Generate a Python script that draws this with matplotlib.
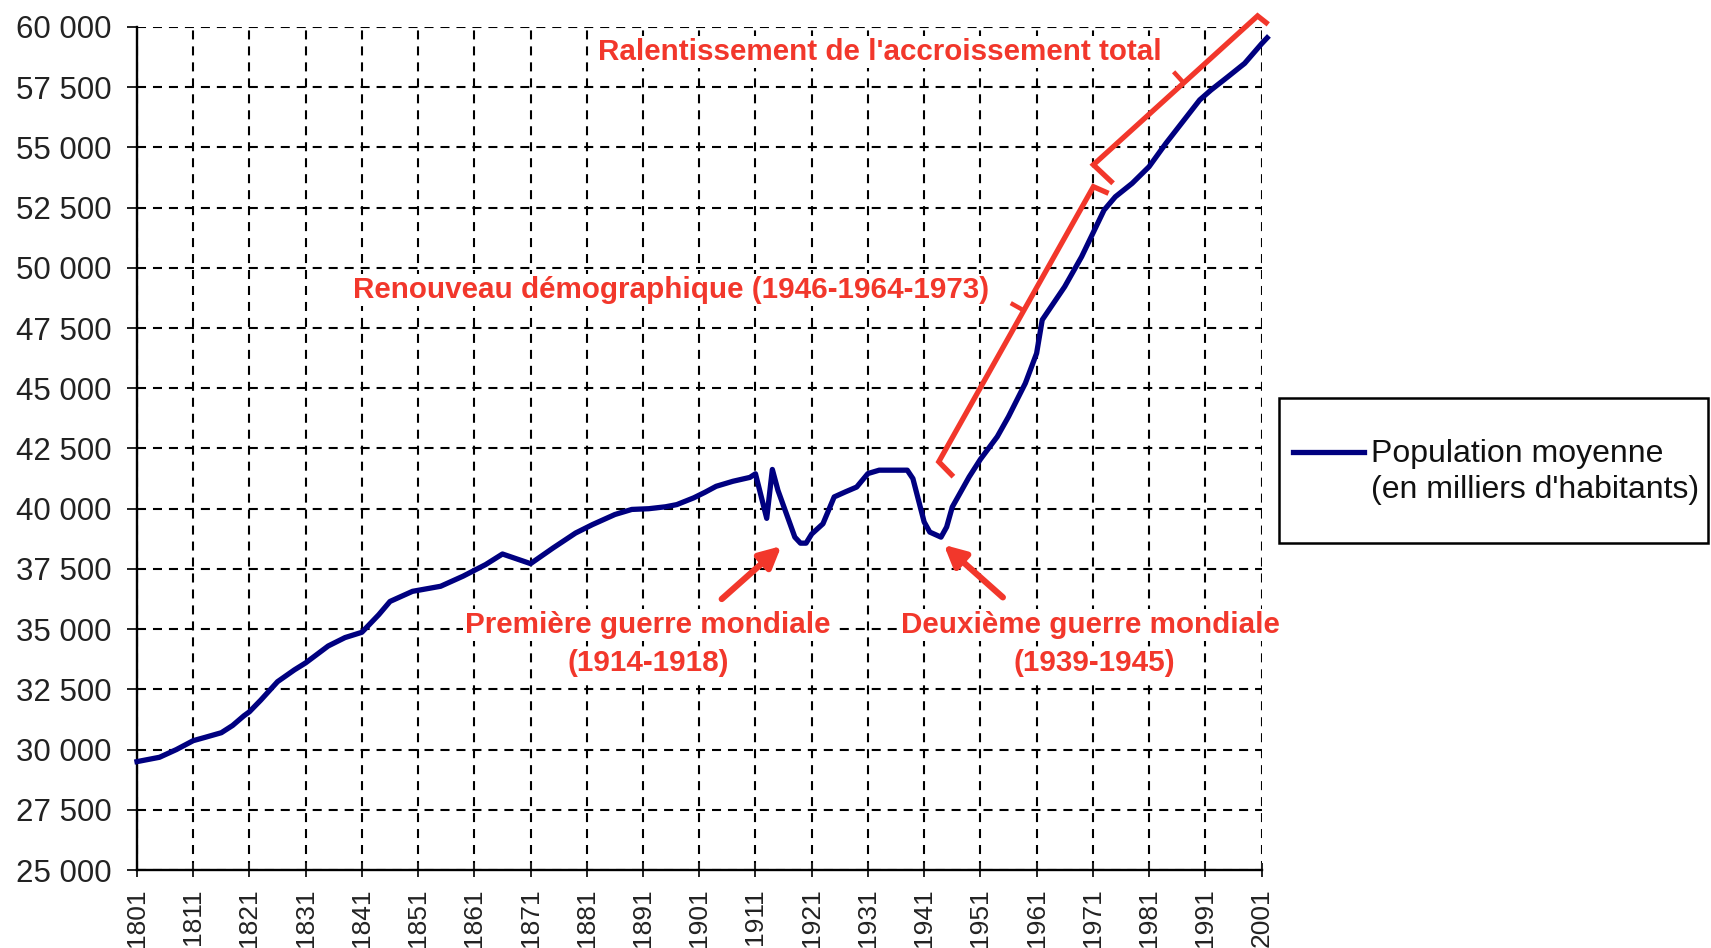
import numpy as np
import matplotlib
matplotlib.use("Agg")
import matplotlib.pyplot as plt
from matplotlib.lines import Line2D
from matplotlib.patches import Rectangle
from matplotlib.ticker import FuncFormatter

# ─── Data ─────────────────────────────────────────────────────────────────────

YEARS = [
    1801, 1805, 1808, 1811, 1813, 1816, 1818, 1820, 1821, 1823, 1826, 1829,
    1831, 1835, 1838, 1841, 1844, 1846, 1850, 1855, 1859, 1863, 1866, 1868,
    1871, 1875, 1879, 1882, 1886, 1889, 1892, 1895, 1897, 1900, 1902, 1904,
    1907, 1910, 1911, 1913, 1914, 1915, 1918, 1919, 1920, 1921, 1923, 1925,
    1927, 1929, 1931, 1933, 1938, 1939, 1941, 1942, 1944, 1945, 1946, 1949,
    1951, 1954, 1956, 1959, 1961, 1962, 1964, 1966, 1969, 1971, 1973, 1975,
    1978, 1981, 1984, 1987, 1990, 1992, 1995, 1998, 2001, 2002,
]
POPULATION = [
    29500, 29680, 30000, 30370, 30500, 30700, 31000, 31400, 31570, 32050, 32820, 33310,
    33600, 34300, 34650, 34870, 35600, 36150, 36570, 36780, 37200, 37680, 38120, 37960,
    37720, 38370, 38990, 39340, 39760, 39970, 40000, 40080, 40170, 40450, 40680, 40930,
    41140, 41300, 41450, 39600, 41630, 40760, 38820, 38570, 38570, 38950, 39375, 40490,
    40700, 40900, 41460, 41600, 41600, 41250, 39450, 39030, 38820, 39240, 40070, 41320,
    42050, 42990, 43820, 45210, 46450, 47840, 48530, 49220, 50460, 51430, 52400, 52950,
    53510, 54200, 55170, 56070, 56970, 57380, 57930, 58490, 59300, 59550,
]
SERIES_LABEL = "Population moyenne\n(en milliers d'habitants)"

X_TICKS = list(range(1801, 2002, 10))
Y_TICKS = list(range(25000, 60001, 2500))

# Annotations (year, value)
TEXT_TOP = ("Ralentissement de l'accroissement total", 1933.2, 58960)
TEXT_MID = ("Renouveau démographique (1946-1964-1973)", 1896.0, 49080)
TEXT_WW1 = [("Première guerre mondiale", 1891.9, 35170), ("(1914-1918)", 1891.9, 33600)]
TEXT_WW2 = [("Deuxième guerre mondiale", 1970.6, 35170), ("(1939-1945)", 1971.2, 33600)]
ARROW_WW1 = ((1905.0, 36250), (1915.6, 38450))
ARROW_WW2 = ((1955.0, 36320), (1944.5, 38500))
# bracket: hook end, corner, far corner, hook end ; tick at a fraction of the long side
BRACKET_1 = ([1946.2, 1943.6, 1971.1, 1973.8], [41330, 41950, 53370, 53094])
BRACKET_2 = ([1974.6, 1971.1, 2000.3, 2002.2], [53510, 54280, 60460, 60110])
TICK_AT = 0.55

NAVY = "#000080"
RED = "#f2372b"

plt.rcParams["font.family"] = ["Liberation Sans", "DejaVu Sans"]
plt.rcParams["lines.scale_dashes"] = False

fig = plt.figure(figsize=(17.11, 9.48), dpi=100)
ax = fig.add_axes([137 / 1711, 1 - 870 / 948, 1124.5 / 1711, 843 / 948])

ax.plot(YEARS, POPULATION, color=NAVY, lw=3.8, solid_joinstyle="round",
        clip_on=False, zorder=4)

ax.set_xlim(1801, 2001)
ax.set_ylim(25000, 60000)
ax.set_xticks(X_TICKS)
ax.set_yticks(Y_TICKS)
ax.yaxis.set_major_formatter(FuncFormatter(lambda v, p: f"{v:,.0f}".replace(",", " ")))
ax.tick_params(axis="x", direction="inout", length=10, width=1.4, pad=8,
               labelsize=19, labelrotation=90, colors="#222222")
ax.tick_params(axis="y", direction="out", length=7.5, width=1.4, pad=10.5,
               labelsize=22.5, colors="#222222")
ax.grid(True, color="black", lw=1.5, ls=(0, (6.5, 5)))
ax.set_axisbelow(True)
for side in ("top", "right"):
    ax.spines[side].set_visible(False)
for side in ("left", "bottom"):
    ax.spines[side].set_linewidth(1.7)

# ── Red annotations ──────────────────────────────────────────────────────

text_kw = dict(color=RED, fontsize=21.3, fontweight="bold", ha="center", va="center",
               zorder=5, bbox=dict(facecolor="white", edgecolor="none", pad=1.5))
for label, x, y in [TEXT_TOP, TEXT_MID] + TEXT_WW1 + TEXT_WW2:
    ax.text(x, y, label, **text_kw)

for tail, head in (ARROW_WW1, ARROW_WW2):
    ax.annotate("", xy=head, xytext=tail, zorder=6,
                arrowprops=dict(arrowstyle="-|>", color=RED, lw=4.5,
                                mutation_scale=32, shrinkA=0, shrinkB=0))

for xs, ys in (BRACKET_1, BRACKET_2):
    ax.plot(xs, ys, color=RED, lw=3.8, clip_on=False, zorder=5,
            solid_joinstyle="miter", solid_capstyle="butt")
    # small tick on the long side, pointing up-left, 15 px long
    p0, p1 = ax.transData.transform([(xs[1], ys[1]), (xs[2], ys[2])])
    d = (p1 - p0) / np.hypot(*(p1 - p0))
    base = p0 + TICK_AT * (p1 - p0)
    tip = base + 15 * np.array([-d[1], d[0]])
    tx, ty = ax.transData.inverted().transform([base, tip]).T
    ax.plot(tx, ty, color=RED, lw=3.2, clip_on=False, zorder=5, solid_capstyle="butt")

# ── Legend box ───────────────────────────────────────────────────────────

fig.add_artist(Rectangle((1279 / 1711, 1 - 543 / 948), 429 / 1711, 145 / 948,
                         transform=fig.transFigure, facecolor="white",
                         edgecolor="black", lw=1.8))
fig.add_artist(Line2D([1293 / 1711, 1364 / 1711], [1 - 452 / 948] * 2,
                      transform=fig.transFigure, color=NAVY, lw=3.8))
fig.text(1371 / 1711, 1 - 472 / 948, SERIES_LABEL, fontsize=23, color="#111111",
         ha="left", va="center", linespacing=1.25)

fig.savefig("out.png", dpi=100)
